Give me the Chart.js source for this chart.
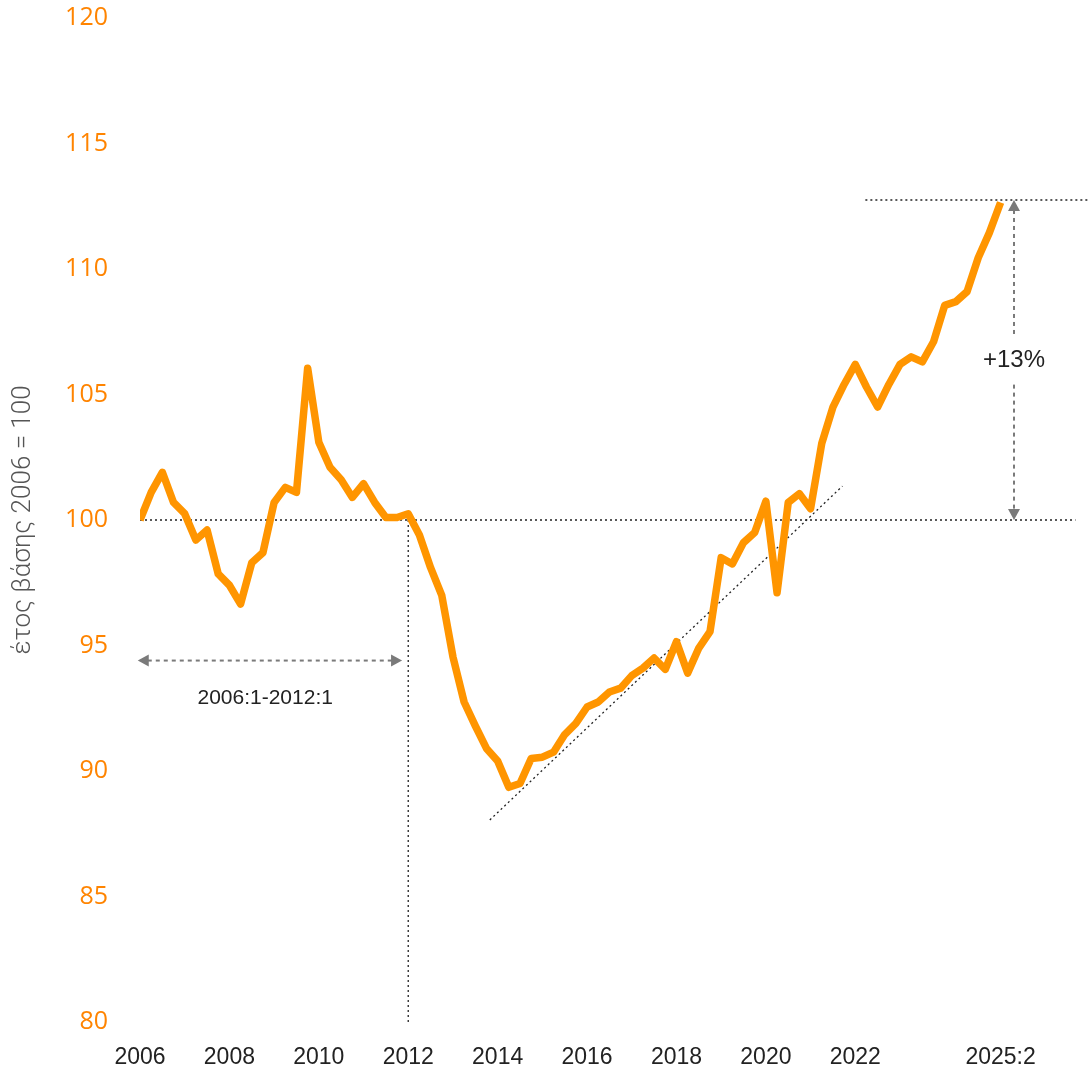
<!doctype html>
<html lang="el">
<head>
    <meta charset="UTF-8">
    <title>Δείκτης 2006 = 100</title>
    <script src="https://cdn.jsdelivr.net/npm/chart.js"></script>
    <style>
        html, body { margin: 0; padding: 0; background: #fff; }
        .chart-container { position: relative; width: 1090px; height: 1070px; }
    </style>
</head>
<body>
<div class="chart-container">
    <canvas id="indexChart"></canvas>
</div>
<script>
    // quarterly index, 2006:1 ... 2025:2 (2006 = 100)
    const startYear = 2006;
    const values = [
        100.0, 101.1, 101.9, 100.7, 100.25, 99.2, 99.6, 97.85,
        97.4, 96.65, 98.3, 98.7, 100.7, 101.3, 101.1, 106.05,
        103.1, 102.1, 101.6, 100.9, 101.45, 100.7, 100.1, 100.1,
        100.25, 99.4, 98.1, 97.0, 94.55, 92.75, 91.8, 90.9,
        90.4, 89.35, 89.5, 90.5, 90.55, 90.75, 91.45, 91.9,
        92.55, 92.75, 93.15, 93.3, 93.8, 94.1, 94.5, 94.05,
        95.15, 93.9, 94.9, 95.55, 98.5, 98.25, 99.1, 99.5,
        100.75, 97.1, 100.7, 101.05, 100.45, 103.05, 104.5, 105.4,
        106.2, 105.3, 104.5, 105.4, 106.2, 106.5, 106.3, 107.1,
        108.55, 108.7, 109.1, 110.45, 111.45, 112.65
    ];
    const quarterLabels = values.map((v, i) => (startYear + Math.floor(i / 4)) + ':' + (i % 4 + 1));

    // x-axis ticks (quarter index) and their text
    const tickQuarters = [0, 8, 16, 24, 32, 40, 48, 56, 64, 77];
    const tickLabels = ['2006', '2008', '2010', '2012', '2014', '2016', '2018', '2020', '2022', '2025:2'];
    const yTicks = [80, 85, 90, 95, 100, 105, 110, 115, 120];

    // annotations (data units: quarter index, index value)
    const baseLine = [0, 83.7, 100];          // x from, x to, y
    const topLine = [64.9, 86, 112.75];
    const cutLine = [24, 100, 80];            // x, y from, y to
    const trendLine = [31.3, 88.05, 62.85, 101.35];
    const spanArrow = [-0.2, 23.45, 94.4];
    const spanText = ['2006:1-2012:1', 11.2, 92.9];
    const riseArrow = [78.2, 100, 112.75];
    const riseText = ['+13%', 78.2, 106.35];

    const dark = '#222';
    const grey = '#7a7a7a';

    function dotted(ctx, x1, y1, x2, y2) {
        ctx.save();
        ctx.strokeStyle = dark;
        ctx.lineWidth = 1.3;
        ctx.setLineDash([2, 3]);
        ctx.beginPath();
        ctx.moveTo(x1, y1);
        ctx.lineTo(x2, y2);
        ctx.stroke();
        ctx.restore();
    }

    function head(ctx, x, y, ang) {
        ctx.save();
        ctx.translate(x, y);
        ctx.rotate(ang);
        ctx.fillStyle = grey;
        ctx.beginPath();
        ctx.moveTo(0, 0);
        ctx.lineTo(-11, -6);
        ctx.lineTo(-11, 6);
        ctx.closePath();
        ctx.fill();
        ctx.restore();
    }

    function dashed(ctx, x1, y1, x2, y2) {
        ctx.save();
        ctx.strokeStyle = grey;
        ctx.lineWidth = 2;
        ctx.setLineDash([4, 4]);
        ctx.beginPath();
        ctx.moveTo(x1, y1);
        ctx.lineTo(x2, y2);
        ctx.stroke();
        ctx.restore();
    }

    const notes = {
        id: 'notes',
        beforeDatasetsDraw(chart) {
            const ctx = chart.ctx;
            const xs = chart.scales.x, ys = chart.scales.y;
            dotted(ctx, xs.getPixelForValue(baseLine[0]), ys.getPixelForValue(baseLine[2]),
                        xs.getPixelForValue(baseLine[1]), ys.getPixelForValue(baseLine[2]));
            dotted(ctx, xs.getPixelForValue(topLine[0]), ys.getPixelForValue(topLine[2]),
                        xs.getPixelForValue(topLine[1]), ys.getPixelForValue(topLine[2]));
            dotted(ctx, xs.getPixelForValue(cutLine[0]), ys.getPixelForValue(cutLine[1]),
                        xs.getPixelForValue(cutLine[0]), ys.getPixelForValue(cutLine[2]));
            dotted(ctx, xs.getPixelForValue(trendLine[0]), ys.getPixelForValue(trendLine[1]),
                        xs.getPixelForValue(trendLine[2]), ys.getPixelForValue(trendLine[3]));

            // 2006:1-2012:1 span
            const ax1 = xs.getPixelForValue(spanArrow[0]);
            const ax2 = xs.getPixelForValue(spanArrow[1]);
            const ay = ys.getPixelForValue(spanArrow[2]);
            dashed(ctx, ax1 + 10, ay, ax2 - 10, ay);
            head(ctx, ax1, ay, Math.PI);
            head(ctx, ax2, ay, 0);

            // +13% rise
            const rx = xs.getPixelForValue(riseArrow[0]);
            const ry1 = ys.getPixelForValue(riseArrow[1]);
            const ry2 = ys.getPixelForValue(riseArrow[2]);
            const ty = ys.getPixelForValue(riseText[2]);
            dashed(ctx, rx, ry2 + 10, rx, ty - 24);
            dashed(ctx, rx, ty + 24, rx, ry1 - 10);
            head(ctx, rx, ry2, -Math.PI / 2);
            head(ctx, rx, ry1, Math.PI / 2);

            ctx.save();
            ctx.fillStyle = dark;
            ctx.textAlign = 'center';
            ctx.textBaseline = 'middle';
            ctx.font = '21px "Liberation Sans", Arial, sans-serif';
            ctx.fillText(spanText[0], xs.getPixelForValue(spanText[1]), ys.getPixelForValue(spanText[2]));
            ctx.font = '24px "Liberation Sans", Arial, sans-serif';
            ctx.fillText(riseText[0], xs.getPixelForValue(riseText[1]), ty);
            ctx.restore();
        }
    };

    const ctxIndex = document.getElementById('indexChart').getContext('2d');
    const indexChart = new Chart(ctxIndex, {
        type: 'line',
        data: {
            datasets: [{
                label: 'Δείκτης',
                data: values.map((v, i) => ({ x: i, y: v, q: quarterLabels[i] })),
                borderColor: '#ff9500',
                borderWidth: 7.5,
                borderJoinStyle: 'round',
                pointRadius: 0,
                tension: 0,
                fill: false
            }]
        },
        options: {
            responsive: true,
            maintainAspectRatio: false,
            animation: false,
            layout: { autoPadding: false, padding: { top: 18, right: 0, bottom: 2, left: 0 } },
            plugins: {
                legend: { display: false },
                tooltip: { enabled: false }
            },
            scales: {
                x: {
                    type: 'linear',
                    min: 0,
                    max: 85,
                    grid: { display: false, drawTicks: false },
                    border: { display: false },
                    afterBuildTicks: function(scale) {
                        scale.ticks = tickQuarters.map(v => ({ value: v }));
                    },
                    afterFit: function(scale) {
                        scale.height = 46;
                        scale.paddingLeft = 0;
                        scale.paddingRight = 0;
                    },
                    ticks: {
                        autoSkip: false,
                        maxRotation: 0,
                        padding: 22,
                        color: dark,
                        font: { family: '"Liberation Sans", Arial, sans-serif', size: 23 },
                        callback: function(value) {
                            return tickLabels[tickQuarters.indexOf(value)];
                        }
                    }
                },
                y: {
                    min: 80,
                    max: 120,
                    grid: { display: false, drawTicks: false },
                    border: { display: false },
                    afterBuildTicks: function(scale) {
                        scale.ticks = yTicks.map(v => ({ value: v }));
                    },
                    afterFit: function(scale) {
                        scale.width = 140;
                        scale.paddingTop = 0;
                        scale.paddingBottom = 0;
                    },
                    ticks: {
                        padding: 32,
                        color: '#ff8400',
                        font: { family: '"Open Sans", sans-serif', size: 25 }
                    },
                    title: {
                        display: true,
                        text: 'έτος βάσης 2006 = 100',
                        color: '#555',
                        padding: { top: 8, bottom: 0 },
                        font: { family: 'Roboto, "Liberation Sans", sans-serif', size: 26, weight: '300' }
                    }
                }
            }
        },
        plugins: [notes]
    });
</script>
</body>
</html>
